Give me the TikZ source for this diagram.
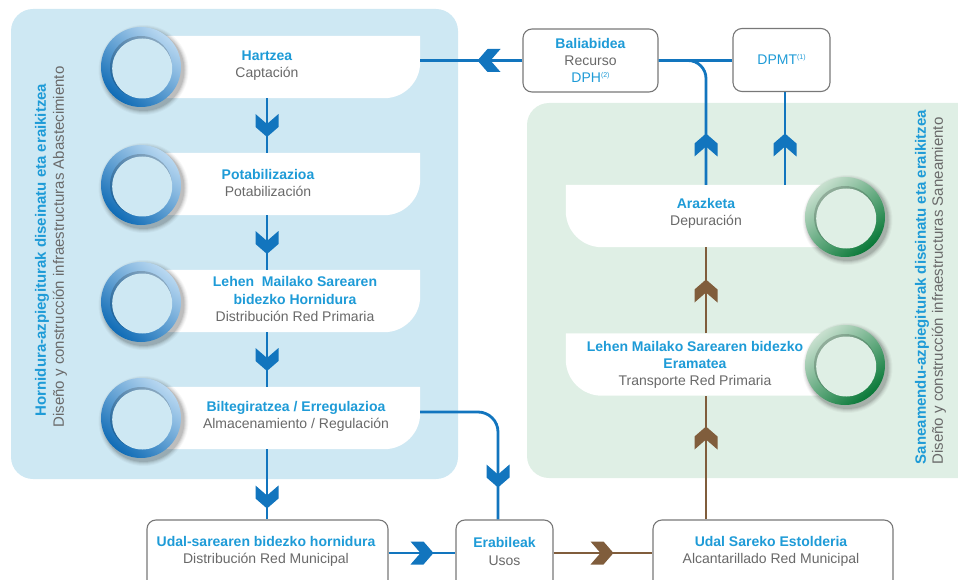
\documentclass[tikz,border=0pt]{standalone}
\usepackage{fontspec}
\setmainfont{Liberation Sans}
\usetikzlibrary{calc}
\definecolor{panelblue}{RGB}{206,232,243}
\definecolor{panelgreen}{RGB}{223,239,229}
\definecolor{lineblue}{RGB}{18,117,190}
\definecolor{textblue}{RGB}{30,155,215}
\definecolor{textgray}{RGB}{105,105,105}
\definecolor{brownline}{RGB}{128,93,60}
\definecolor{boxgray}{RGB}{120,120,120}
\definecolor{ringlightb}{RGB}{185,216,241}
\definecolor{ringdarkb}{RGB}{16,108,182}
\definecolor{ringlightg}{RGB}{200,224,207}
\definecolor{ringdarkg}{RGB}{8,120,55}
\newcommand\tblue[1]{{\color{textblue}\bfseries #1}}
\newcommand\tgray[1]{{\color{textgray}#1}}
\newcommand\supnum[1]{\raisebox{5pt}{\fontsize{7}{7}\selectfont #1}}
\newcommand\myring[5]{%
  \foreach \rr/\oo in {45/0.03,44/0.04,43/0.05,42/0.07,41/0.09}{\fill[black,opacity=\oo] ($(#1)+(2.5,3)$) circle (\rr pt);}
  \shade[top color=#2,bottom color=#3,shading angle=#4] (#1) circle (40pt);
  \fill[black,opacity=0.18] (#1) circle (31pt);
  \fill[#5] ($(#1)+(1.2,1.5)$) circle (30pt);
}
\tikzset{pics/chev/.style={code={\fill[#1] (-11.5,-11.5) -- (0,-1.5) -- (11.5,-11.5) -- (11.5,1.5) -- (0,11.5) -- (-11.5,1.5) -- cycle;}}}
\begin{document}
\begin{tikzpicture}[x=1pt,y=-1pt,
  every node/.style={font=\fontsize{14}{17.2}\selectfont, align=center, inner sep=0pt},
  bl/.style={draw=lineblue,line width=2.8pt},
  br/.style={draw=brownline,line width=2.8pt},
  lbox/.style={minimum width=270pt,minimum height=62pt},
  rbox/.style={minimum width=264pt,minimum height=62pt},
  gbox/.style={draw=boxgray,fill=white,rounded corners=9pt,line width=1.1pt},
  rotblue/.style={rotate=90,font=\fontsize{15}{18}\selectfont\bfseries,text=textblue},
  rotgray/.style={rotate=90,font=\fontsize{15}{18}\selectfont,text=textgray}]
\clip (0,0) rectangle (958,580);
% panels
\fill[panelblue,rounded corners=22pt] (11,9) rectangle (458,479);
\fill[panelgreen,rounded corners=22pt] (527,103) rectangle (990,478);
% helper coordinates
\coordinate (lx) at (267,0);
\coordinate (lxr) at (706,0);
\coordinate (lxd) at (785,0);
\coordinate (lxe) at (498,0);
\coordinate (hy) at (0,553);
% box nodes
\node[lbox] (h1) at (285,67) {};
\node[lbox] (h2) at (285,184) {};
\node[lbox] (h3) at (285,301) {};
\node[lbox] (h4) at (285,418) {};
\node[rbox] (r1) at (698,216) {};
\node[rbox] (r2) at (698,364.5) {};
% white box shapes
\foreach \b in {h1,h2,h3,h4}{
  \fill[white] (\b.north west) -- (\b.north east) [rounded corners=36pt] -- (\b.south east) [sharp corners] -- (\b.south west) -- cycle;}
\foreach \b in {r1,r2}{
  \fill[white] (\b.north east) -- (\b.north west) [rounded corners=36pt] -- (\b.south west) [sharp corners] -- (\b.south east) -- cycle;}
% bordered boxes
\node[gbox,minimum width=135pt,minimum height=63pt] (bal) at (590.5,60.5) {};
\node[gbox,minimum width=97pt,minimum height=63pt] (dpmt) at (781.5,60) {};
\node[gbox,minimum width=241pt,minimum height=80pt] (u1) at (267.5,560) {};
\node[gbox,minimum width=97pt,minimum height=80pt] (ea) at (504.5,560) {};
\node[gbox,minimum width=240pt,minimum height=80pt] (u2) at (773,560) {};
% connectors
\draw[bl] (h1.south -| lx) -- (h2.north -| lx);
\draw[bl] (h2.south -| lx) -- (h3.north -| lx);
\draw[bl] (h3.south -| lx) -- (h4.north -| lx);
\draw[bl] (h4.south -| lx) -- (u1.north -| lx);
\draw[bl] (bal.west) -- (bal.west -| h1.east);
\draw[bl] (bal.east) -- (dpmt.west |- bal.east);
\draw[bl,rounded corners=18pt] (bal.east) -| (r1.north -| lxr);
\draw[bl] (dpmt.south -| lxd) -- (r1.north -| lxd);
\draw[bl,rounded corners=20pt] ($(h4.east)+(0,-6)$) -| (ea.north -| lxe);
\draw[bl] (u1.east |- hy) -- (ea.west |- hy);
\draw[br] (ea.east |- hy) -- (u2.west |- hy);
\draw[br] (u2.north -| lxr) -- (r2.south -| lxr);
\draw[br] (r2.north -| lxr) -- (r1.south -| lxr);
% chevrons
\pic at (267,125.5) {chev=lineblue};
\pic at (267,242.5) {chev=lineblue};
\pic at (267,359.5) {chev=lineblue};
\pic at (267,497) {chev=lineblue};
\pic at (498,476) {chev=lineblue};
\pic[rotate=-90] at (489,60.5) {chev=lineblue};
\pic[rotate=90] at (422,553) {chev=lineblue};
\pic[rotate=90] at (602,553) {chev=brownline};
\pic[rotate=180] at (706,145) {chev=lineblue};
\pic[rotate=180] at (785,145) {chev=lineblue};
\pic[rotate=180] at (706,291) {chev=brownline};
\pic[rotate=180] at (706,438) {chev=brownline};
% rings
\coordinate (c1) at (141,67);
\coordinate (c2) at (141,185);
\coordinate (c3) at (141,302);
\coordinate (c4) at (141,418);
\coordinate (c5) at (845,217);
\coordinate (c6) at (845,365);
\foreach \c in {c1,c2,c3,c4}{\myring{\c}{ringlightb}{ringdarkb}{-40}{panelblue}}
\foreach \c in {c5,c6}{\myring{\c}{ringlightg}{ringdarkg}{40}{panelgreen}}
% texts
\node (t1) at (267,65.5) {\tblue{Hartzea}\\\tgray{Captación}};
\node (t2) at (268,183) {\tblue{Potabilizazioa}\\\tgray{Potabilización}};
\node (t3) at (295,299) {\tblue{Lehen\ \ Mailako Sarearen}\\\tblue{bidezko Hornidura}\\\tgray{Distribución Red Primaria}};
\node (t4) at (296,416.5) {\tblue{Biltegiratzea / Erregulazioa}\\\tgray{Almacenamiento / Regulación}};
\node (t5) at (706,213) {\tblue{Arazketa}\\\tgray{Depuración}};
\node (t6) at (695,365) {\tblue{Lehen Mailako Sarearen bidezko}\\\tblue{Eramatea}\\\tgray{Transporte Red Primaria}};
\node (t7) at (590.5,60.5) {\tblue{Baliabidea}\\\tgray{Recurso}\\{\color{textblue}DPH\supnum{(2)}}};
\node (t8) at (781.5,59) {{\color{textblue}DPMT\supnum{(1)}}};
\node (t9) at (266,551.5) {\tblue{Udal-sarearen bidezko hornidura}\\\tgray{Distribución Red Municipal}};
\node (t10) at (504.5,551.5) {\tblue{Erabileak}\\\tgray{Usos}};
\node (t11) at (771,551.5) {\tblue{Udal Sareko Estolderia}\\\tgray{Alcantarillado Red Municipal}};
\node[rotblue] (l1) at (42,250) {Hornidura-azpiegiturak diseinatu eta eraikitzea};
\node[rotgray] (l2) at (60,247) {Diseño y construcción infraestructuras Abastecimiento};
\node[rotblue] (l3) at (922,287) {Saneamendu-azpiegiturak diseinatu eta eraikitzea};
\node[rotgray] (l4) at (939,291) {Diseño y construcción infraestructuras Saneamiento};
\end{tikzpicture}
\end{document}
